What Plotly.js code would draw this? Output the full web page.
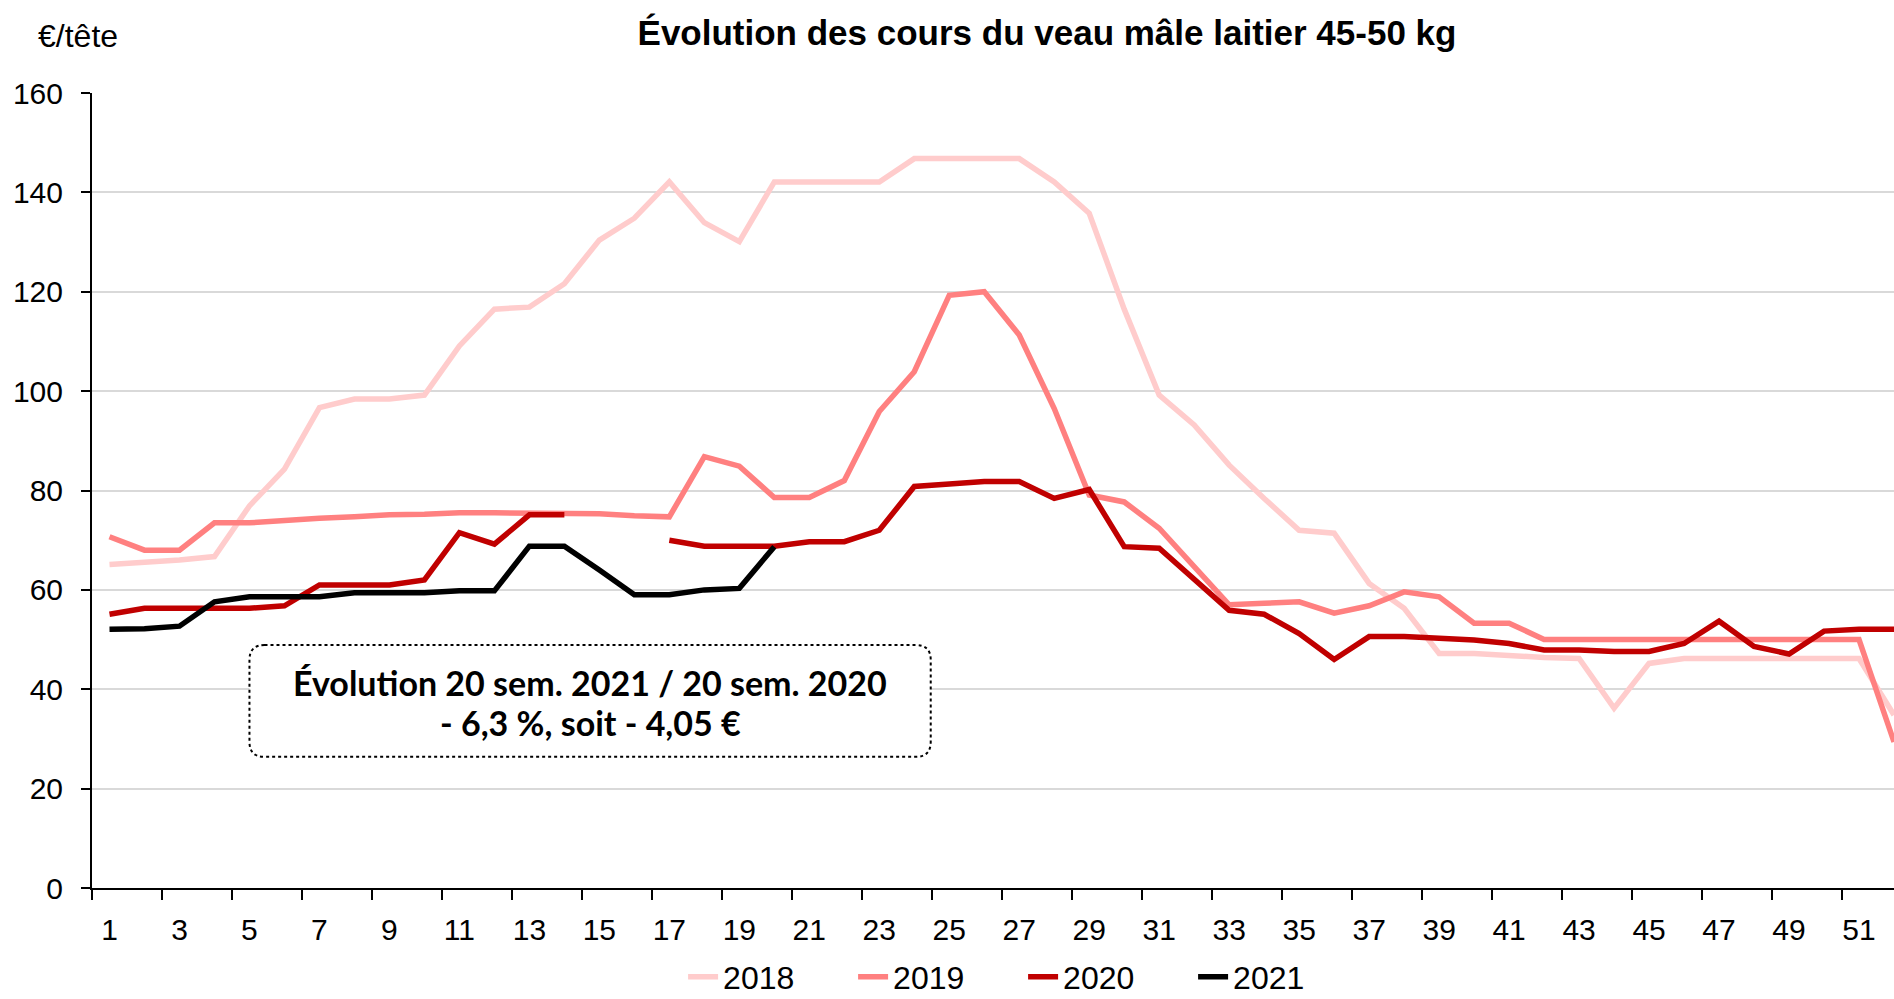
<!DOCTYPE html>
<html>
<head>
<meta charset="utf-8">
<script src="https://cdn.plot.ly/plotly-3.0.1.min.js"></script>
<style>html,body{margin:0;padding:0;background:#fff;}#chart{width:1894px;height:999px;}</style>
</head>
<body>
<div id="chart"></div>
<script>
// Weeks
const weeks = Array.from({length: 52}, (_, i) => i + 1);
const tickLabels = [1,3,5,7,9,11,13,15,17,19,21,23,25,27,29,31,33,35,37,39,41,43,45,47,49,51];

// Prices (€/tête)
const y2018 = [65.1,65.5,66.0,66.7,76.9,84.3,96.7,98.4,98.4,99.2,109.1,116.5,116.9,121.6,130.4,134.8,142.1,133.9,130.1,142.1,
  142.1,142.1,142.1,146.8,146.8,146.8,146.8,142.1,135.8,116.5,99.2,93.2,85.1,78.4,72.0,71.4,61.3,56.3,47.2,47.2,
  46.7,46.4,46.2,36.2,45.2,46.2,46.2,46.2,46.2,46.2,46.2,34.8];
const y2019 = [70.7,68.0,68.0,73.5,73.5,74.0,74.4,74.7,75.1,75.2,75.5,75.5,75.5,75.4,75.3,74.9,74.7,86.8,84.9,78.6,
  78.6,82.0,95.9,103.9,119.3,120.0,111.3,96.5,79.1,77.7,72.4,64.7,57.0,57.3,57.6,55.3,56.8,59.6,58.6,53.3,
  53.3,50.0,50.0,50.0,50.0,50.0,50.0,50.0,50.0,50.0,50.0,29.4];
const y2020 = [55.1,56.3,56.3,56.3,56.3,56.8,61.0,61.0,61.0,62.0,71.5,69.2,75.1,75.1,null,null,70.0,68.8,68.8,68.8,
  69.7,69.7,72.0,80.8,81.3,81.8,81.8,78.4,80.2,68.7,68.4,62.0,55.9,55.1,51.2,46.0,50.6,50.6,50.2,49.9,
  49.2,47.9,47.9,47.6,47.6,49.2,53.7,48.6,47.1,51.7,52.1,52.1];
const y2021 = [52.1,52.2,52.7,57.6,58.6,58.6,58.6,59.4,59.4,59.4,59.8,59.8,68.8,68.8,64.0,59.0,59.0,60.0,60.3,68.7];

const seriesNames = ['2018','2019','2020','2021'];
const seriesData = [y2018, y2019, y2020, y2021];
const seriesColors = ['#ffcccc','#ff8080','#c00000','#000000'];

const FONT = 'Liberation Sans, Arial, Helvetica, sans-serif';
const BOXFONT = 'Lato, Noto Sans, sans-serif';

const traces = seriesNames.map((name, i) => ({
  type: 'scatter',
  mode: 'lines',
  name: name,
  x: weeks.slice(0, seriesData[i].length),
  y: seriesData[i],
  connectgaps: false,
  line: {color: seriesColors[i], width: 5.5},
  hoverinfo: 'x+y+name'
}));

// Annotation box (in data units)
const bx0 = 5.0, bx1 = 24.47, by0 = 26.4, by1 = 48.9, rx = 0.43, ry = 3.0;
const boxPath = `M ${bx0+rx},${by1} L ${bx1-rx},${by1} Q ${bx1},${by1} ${bx1},${by1-ry} L ${bx1},${by0+ry} Q ${bx1},${by0} ${bx1-rx},${by0} L ${bx0+rx},${by0} Q ${bx0},${by0} ${bx0},${by0+ry} L ${bx0},${by1-ry} Q ${bx0},${by1} ${bx0+rx},${by1} Z`;

const layout = {
  width: 1894,
  height: 999,
  paper_bgcolor: '#ffffff',
  plot_bgcolor: '#ffffff',
  margin: {l: 92, r: 0, t: 93, b: 111, pad: 0, autoexpand: false},
  font: {family: FONT, size: 30, color: '#000000'},
  title: {
    text: 'Évolution des cours du veau mâle laitier 45-50 kg',
    font: {family: FONT, size: 35, color: '#000000', weight: 'bold'},
    x: 0.5528, xanchor: 'center', xref: 'container',
    y: 0.967, yanchor: 'middle', yref: 'container'
  },
  xaxis: {
    type: 'linear',
    range: [0.5, 52],
    tickmode: 'array',
    tickvals: tickLabels,
    ticktext: tickLabels.map(String),
    ticks: '',
    ticklabelstandoff: 14,
    tickfont: {family: FONT, size: 30, color: '#000000'},
    showgrid: false,
    zeroline: false,
    showline: true,
    linecolor: '#000000',
    linewidth: 2,
    automargin: false,
    minor: {tick0: 0.5, dtick: 2, ticks: 'outside', ticklen: 10, tickwidth: 2, tickcolor: '#000000', showgrid: false},
    fixedrange: true
  },
  yaxis: {
    range: [0, 160],
    tickmode: 'linear',
    tick0: 0,
    dtick: 20,
    ticks: 'outside',
    ticklen: 9,
    tickwidth: 2,
    tickcolor: '#000000',
    ticklabelstandoff: 12,
    tickfont: {family: FONT, size: 30, color: '#000000'},
    showgrid: true,
    gridcolor: '#d9d9d9',
    gridwidth: 2,
    zeroline: false,
    showline: true,
    linecolor: '#000000',
    linewidth: 2,
    automargin: false,
    fixedrange: true
  },
  showlegend: true,
  legend: {
    orientation: 'h',
    x: 0.5167, xanchor: 'center',
    xref: 'paper',
    y: -0.112, yanchor: 'middle', yref: 'paper',
    font: {family: FONT, size: 32, color: '#000000'},
    entrywidth: 125,
    entrywidthmode: 'pixels',
    borderwidth: 0,
    bgcolor: 'rgba(0,0,0,0)'
  },
  shapes: [{
    type: 'path',
    xref: 'x', yref: 'y',
    path: boxPath,
    fillcolor: '#ffffff',
    line: {color: '#000000', width: 2, dash: 'dot'},
    layer: 'between'
  }],
  annotations: [
    {
      xref: 'x', yref: 'y',
      x: (bx0 + bx1) / 2, y: 41.46,
      xanchor: 'center', yanchor: 'middle',
      text: '<b>Évolution 20 sem. 2021 / 20 sem. 2020</b>',
      showarrow: false,
      font: {family: BOXFONT, size: 34, color: '#000000'}
    },
    {
      xref: 'x', yref: 'y',
      x: (bx0 + bx1) / 2, y: 33.4,
      xanchor: 'center', yanchor: 'middle',
      text: '<b>- 6,3 %, soit - 4,05 €</b>',
      showarrow: false,
      font: {family: BOXFONT, size: 34, color: '#000000'}
    },
    {
      xref: 'paper', yref: 'paper',
      x: -0.0308, y: 1.0717,
      xanchor: 'left', yanchor: 'middle',
      text: '€/tête',
      showarrow: false,
      font: {family: FONT, size: 32, color: '#000000'}
    }
  ]
};

Plotly.newPlot('chart', traces, layout, {displayModeBar: false, responsive: false});
</script>
</body>
</html>
